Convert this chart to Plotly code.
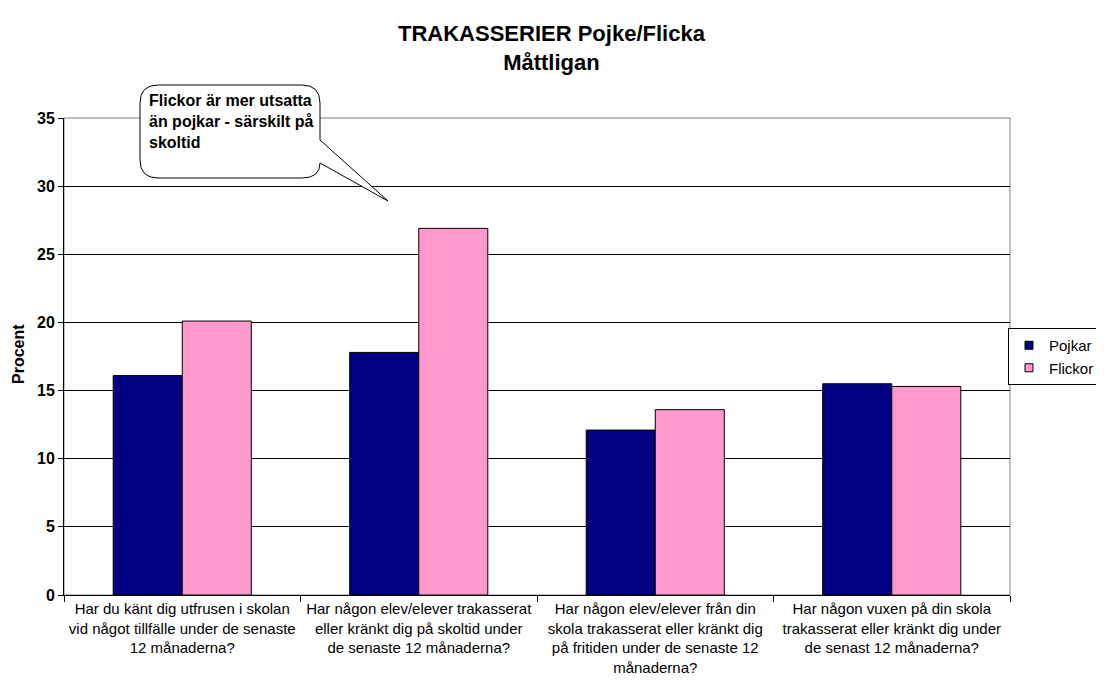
import plotly.graph_objects as go

categories = [
    "Har du känt dig utfrusen i skolan<br>vid något tillfälle under de senaste<br>12 månaderna?",
    "Har någon elev/elever trakasserat<br>eller kränkt dig på skoltid under<br>de senaste 12 månaderna?",
    "Har någon elev/elever från din<br>skola trakasserat eller kränkt dig<br>på fritiden under de senaste 12<br>månaderna?",
    "Har någon vuxen på din skola<br>trakasserat eller kränkt dig under<br>de senast 12 månaderna?",
]
pojkar = [16.1, 17.8, 12.1, 15.5]
flickor = [20.1, 26.9, 13.6, 15.3]
y_ticks = [0, 5, 10, 15, 20, 25, 30, 35]

# page has an 8px body margin; size the figure so the visible frame matches
OFF = 8
W, H = 1104 - OFF, 682 - OFF
PL, PR, PT, PB = 64, 1010, 118, 595          # plot frame in page pixels
ML, MT = PL - OFF, PT - OFF
MR, MB = W - (PR - OFF), H - (PB - OFF)
PW, PH = PR - PL, PB - PT
FONT = "Arial, Liberation Sans, sans-serif"


def px(x):
    return (x - PL) / PW


def py(y):
    return (PB - y) / PH


fig = go.Figure()
fig.add_trace(go.Bar(name="Pojkar", x=categories, y=pojkar, showlegend=False,
                     marker=dict(color="#000080", line=dict(color="black", width=1))))
fig.add_trace(go.Bar(name="Flickor", x=categories, y=flickor, showlegend=False,
                     marker=dict(color="#FF99CC", line=dict(color="black", width=1))))
# legend entries with small square keys
fig.add_trace(go.Scatter(name="Pojkar", x=[None], y=[None], mode="markers",
                         marker=dict(symbol="square", size=8, color="#000080",
                                     line=dict(color="black", width=1))))
fig.add_trace(go.Scatter(name="Flickor", x=[None], y=[None], mode="markers",
                         marker=dict(symbol="square", size=8, color="#FF99CC",
                                     line=dict(color="black", width=1))))

# callout bubble
L, R, T, B, r = 140, 320, 85, 178, 18
tip = (388, 201)
path = (
    f"M {px(L + r)},{py(T)} L {px(R - r)},{py(T)} "
    f"Q {px(R)},{py(T)} {px(R)},{py(T + r)} "
    f"L {px(R)},{py(140)} L {px(tip[0])},{py(tip[1])} L {px(R)},{py(163)} "
    f"Q {px(R)},{py(B)} {px(R - r)},{py(B)} "
    f"L {px(L + r)},{py(B)} "
    f"Q {px(L)},{py(B)} {px(L)},{py(B - r)} "
    f"L {px(L)},{py(T + r)} "
    f"Q {px(L)},{py(T)} {px(L + r)},{py(T)} Z"
)
fig.add_shape(type="path", path=path, xref="paper", yref="paper",
              fillcolor="white", line=dict(color="black", width=1), layer="above")
fig.add_annotation(x=px(147), y=py(90), xref="paper", yref="paper",
                   xanchor="left", yanchor="top", align="left", showarrow=False,
                   text="<b>Flickor är mer utsatta<br>än pojkar - särskilt på<br>skoltid</b>",
                   font=dict(family=FONT, size=16, color="black"))

# title (two lines)
fig.add_annotation(x=px(552), y=py(48), xref="paper", yref="paper",
                   xanchor="center", yanchor="middle", showarrow=False, align="center",
                   text="<b>TRAKASSERIER Pojke/Flicka<br>Måttligan</b>",
                   font=dict(family=FONT, size=22, color="black"))

# y axis title
fig.add_annotation(x=px(18), y=py(354), xref="paper", yref="paper",
                   xanchor="center", yanchor="middle", showarrow=False, textangle=-90,
                   text="<b>Procent</b>",
                   font=dict(family=FONT, size=16, color="black"))

# plot area border
fig.add_shape(type="rect", xref="paper", yref="paper", x0=0, y0=0, x1=1, y1=1,
              line=dict(color="#808080", width=1), layer="below")

fig.update_layout(
    width=W, height=H,
    margin=dict(l=ML, r=MR, t=MT, b=MB, autoexpand=False),
    paper_bgcolor="white", plot_bgcolor="white",
    barmode="group", bargap=0.416, bargroupgap=0,
    font=dict(family=FONT, color="black"),
    legend=dict(x=px(1100), xanchor="right", y=py(328), yanchor="top",
                bordercolor="black", borderwidth=1, bgcolor="white",
                font=dict(family=FONT, size=15, color="black"),
                itemwidth=30, tracegroupgap=0),
    xaxis=dict(type="category", showline=True, linecolor="black", linewidth=1,
               ticks="outside", tickson="boundaries", ticklen=6, tickcolor="black",
               tickfont=dict(family=FONT, size=15, color="black"),
               showgrid=False),
    yaxis=dict(range=[0, 35], tickvals=y_ticks, ticks="outside", ticklen=5,
               tickcolor="black", showline=True, linecolor="black", linewidth=1,
               showgrid=True, gridcolor="black", gridwidth=1, zeroline=False,
               tickfont=dict(family=FONT, size=16, color="black", weight="bold")),
)

fig.write_html("out.html")
